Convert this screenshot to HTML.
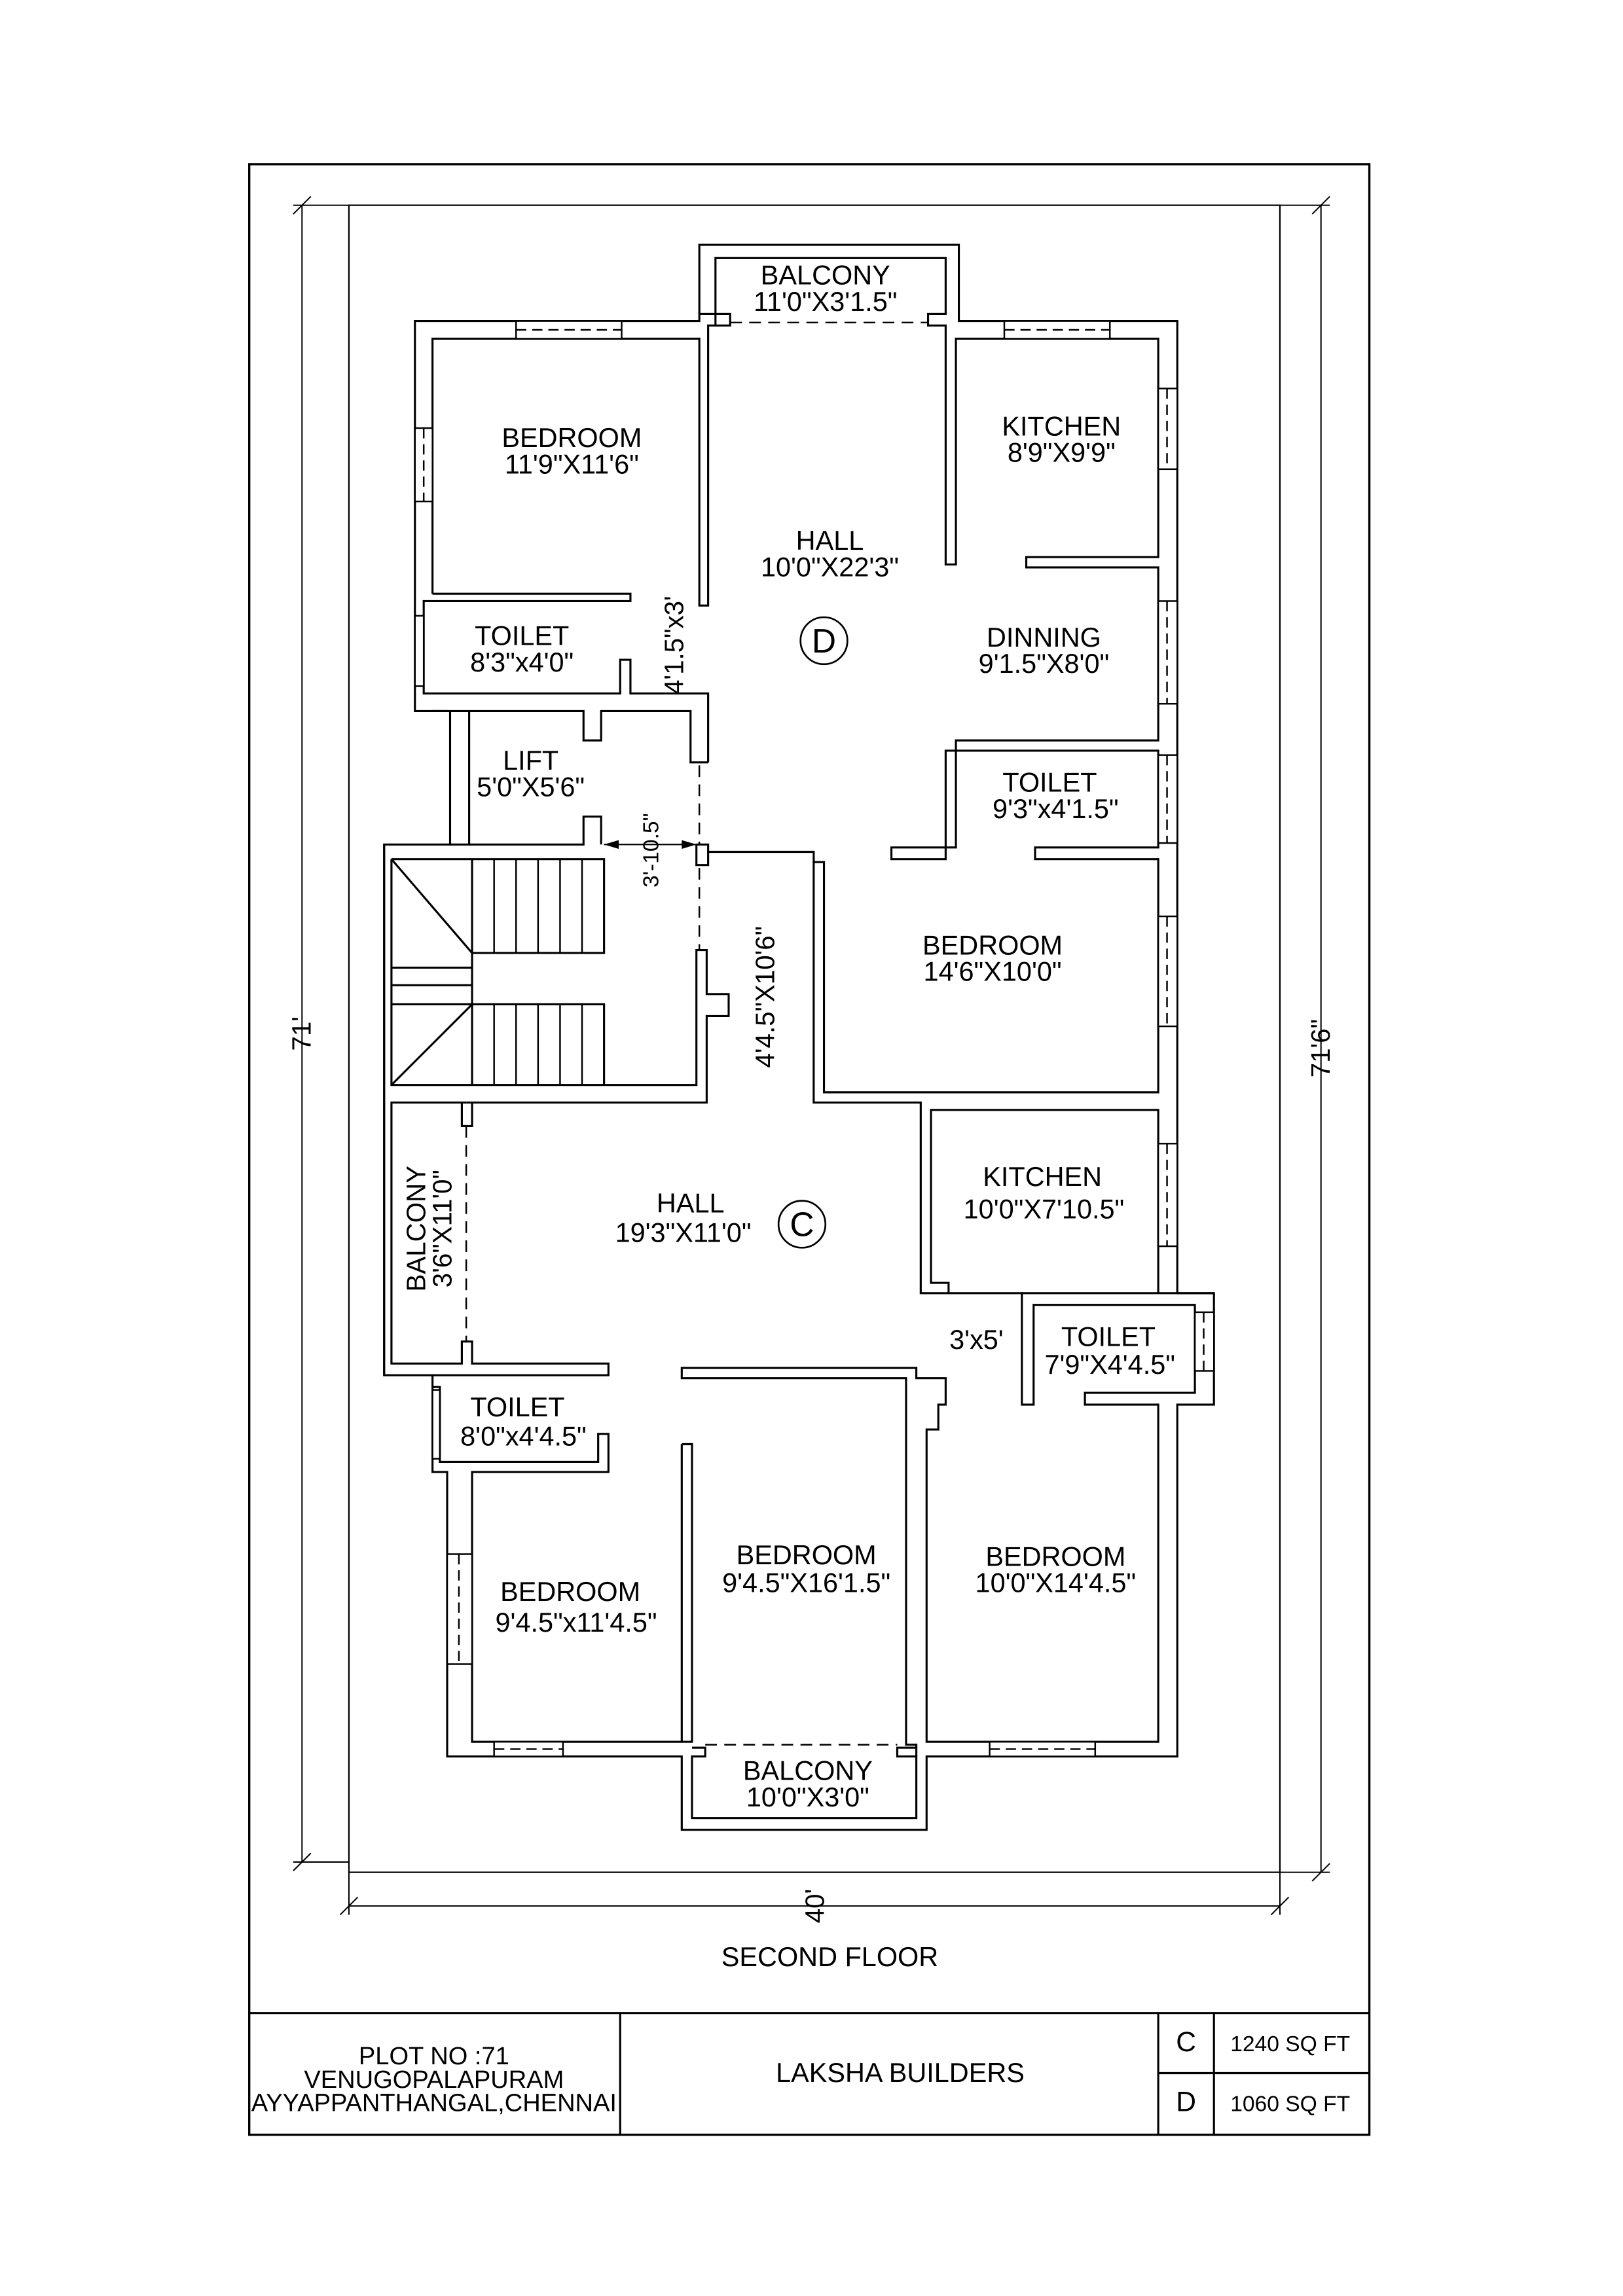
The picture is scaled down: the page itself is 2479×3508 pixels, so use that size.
<!DOCTYPE html>
<html><head><meta charset="utf-8"><style>
html,body{margin:0;padding:0;background:#fff}
svg{display:block}
text{font-family:"Liberation Sans",sans-serif;fill:#000}
</style></head><body>
<svg width="2479" height="3508" viewBox="0 0 1107 1566" preserveAspectRatio="none" xmlns="http://www.w3.org/2000/svg">
<g fill="none" stroke="#000" stroke-width="1.4" stroke-linejoin="miter">
<rect x="170" y="112" width="764" height="1344" stroke-width="1.5"/>
<line x1="170" y1="1373" x2="934" y2="1373"/>
<line x1="423" y1="1373" x2="423" y2="1456"/>
<line x1="790" y1="1373" x2="790" y2="1456"/>
<line x1="828" y1="1373" x2="828" y2="1456"/>
<line x1="790" y1="1414" x2="934" y2="1414"/>
<rect x="238" y="140" width="635" height="1137" stroke-width="1"/>
<g stroke-width="0.9">
<line x1="206" y1="140" x2="206" y2="1270"/><line x1="200" y1="146" x2="212" y2="134"/><line x1="200" y1="1276" x2="212" y2="1264"/><line x1="200" y1="1270" x2="238" y2="1270"/><line x1="200" y1="140" x2="238" y2="140"/>
<line x1="901" y1="140" x2="901" y2="1277"/><line x1="895" y1="146" x2="907" y2="134"/><line x1="895" y1="1283" x2="907" y2="1271"/><line x1="873" y1="140" x2="907" y2="140"/><line x1="873" y1="1277" x2="907" y2="1277"/>
<line x1="238" y1="1300" x2="873" y2="1300"/><line x1="238" y1="1277" x2="238" y2="1306"/><line x1="873" y1="1277" x2="873" y2="1306"/><line x1="232" y1="1306" x2="244" y2="1294"/><line x1="867" y1="1306" x2="879" y2="1294"/>
</g>
<polyline points="305,485 283,485 283,219 477,219 477,167 654,167 654,219 803,219 803,882 828,882 828,958 803,958 803,1198 632,1198 632,1248 465,1248 465,1198 305,1198 305,1004 295,1004 295,938 262,938 262,576 307,576 307,485"/>
<polyline points="295,405 295,231 477,231 477,413 483,413 483,222 488,222 488,214 477,214"/>
<polyline points="295,405 430,405 430,410 289,410 289,473 423,473 423,450 430,450 430,473 483,473 483,520"/>
<polyline points="295,485 398,485 398,505 410,505 410,485 471,485 471,520 483,520"/>
<polyline points="320,485 320,576 307,576"/>
<polyline points="320,576 398,576 398,557 410,557 410,576"/>
<polyline points="488,214 488,176 645,176 645,214 633,214 633,222 645,222 645,385 652,385 652,231 790,231 790,380 700,380 700,387 790,387 790,505 652,505 652,578 608,578 608,586 645,586 645,512 790,512 790,578 706,578 706,586 790,586 790,745 562,745 562,588 555,588 555,752 628,752 628,882 647,882 647,875 635,875 635,757 790,757 790,882"/>
<polyline points="488,222 498,222 498,214 488,214"/>
<polyline points="475,576 475,590 483,590 483,581 555,581 555,588"/>
<polyline points="483,581 483,576 475,576"/>
<polyline points="262,576 262,938"/>
<polyline points="267,586 412,586 412,650 322,650 322,586"/>
<polyline points="267,586 267,740 475,740 475,648 482,648 482,678 497,678 497,693 482,693 482,752 318,752"/>
<polyline points="322,685 412,685 412,740"/>
<line x1="322" y1="650" x2="322" y2="740"/>
<line x1="267" y1="660" x2="322" y2="660"/><line x1="267" y1="672" x2="322" y2="672"/><line x1="267" y1="685" x2="322" y2="685"/>
<line x1="267" y1="586" x2="322" y2="650"/><line x1="322" y1="685" x2="267" y2="740"/>
<g stroke-width="1.1"><line x1="337" y1="586" x2="337" y2="650"/><line x1="352" y1="586" x2="352" y2="650"/><line x1="367" y1="586" x2="367" y2="650"/><line x1="382" y1="586" x2="382" y2="650"/><line x1="397" y1="586" x2="397" y2="650"/>
<line x1="337" y1="685" x2="337" y2="740"/><line x1="352" y1="685" x2="352" y2="740"/><line x1="367" y1="685" x2="367" y2="740"/><line x1="382" y1="685" x2="382" y2="740"/><line x1="397" y1="685" x2="397" y2="740"/></g>
<polyline points="318,752 267,752 267,930 315,930 315,915 322,915 322,930 415,930 415,938 295,938"/>
<polyline points="315,752 315,768 322,768 322,752"/>
<polyline points="647,882 697,882 697,958 705,958 705,890 815,890 815,950 740,950 740,958 790,958 790,1188 632,1188 632,975 640,975 640,958 645,958 645,940 625,940 625,933 465,933 465,940 618,940 618,1190 625,1190 625,1198"/>
<polyline points="697,882 828,882"/>
<polyline points="465,985 472,985 472,1188 465,1188 465,985"/>
<polyline points="465,1188 462,1188 322,1188 322,1004 415,1004 415,978 408,978 408,997 300,997 300,946 295,946"/>
<polyline points="472,1192 481,1192 481,1198 472,1198 472,1240 625,1240 625,1198 612,1198 612,1192 625,1192"/>
</g>
<g fill="none" stroke="#000" stroke-width="1.1" stroke-dasharray="8,5">
<line x1="498" y1="220" x2="633" y2="220"/>
<line x1="477" y1="522" x2="477" y2="576"/>
<line x1="477" y1="592" x2="477" y2="648"/>
<line x1="318" y1="768" x2="318" y2="915"/>
<line x1="481" y1="1190" x2="612" y2="1190"/>
</g>
<g fill="#fff" stroke="#000" stroke-width="1.1">
<rect x="352" y="219" width="72" height="12"/><rect x="685" y="219" width="72" height="12"/>
<rect x="283" y="292" width="12" height="50"/><rect x="283" y="420" width="6" height="48"/>
<rect x="790" y="265" width="13" height="55"/><rect x="790" y="410" width="13" height="70"/>
<rect x="790" y="515" width="13" height="60"/><rect x="790" y="625" width="13" height="75"/>
<rect x="790" y="780" width="13" height="70"/><rect x="815" y="895" width="13" height="40"/>
<rect x="295" y="948" width="5" height="47"/><rect x="305" y="1060" width="17" height="75"/>
<rect x="337" y="1188" width="47" height="10"/><rect x="675" y="1188" width="72" height="10"/>
</g>
<g stroke="#000" stroke-width="1.1" stroke-dasharray="7,4">
<line x1="352" y1="225" x2="424" y2="225"/><line x1="685" y1="225" x2="757" y2="225"/>
<line x1="289" y1="292" x2="289" y2="342"/><line x1="796" y1="265" x2="796" y2="320"/>
<line x1="796" y1="410" x2="796" y2="480"/><line x1="796" y1="515" x2="796" y2="575"/>
<line x1="796" y1="625" x2="796" y2="700"/><line x1="796" y1="780" x2="796" y2="850"/>
<line x1="821" y1="895" x2="821" y2="935"/><line x1="313" y1="1060" x2="313" y2="1135"/>
<line x1="337" y1="1193" x2="384" y2="1193"/><line x1="675" y1="1193" x2="747" y2="1193"/>
</g>
<g stroke="#000" stroke-width="1"><line x1="412" y1="576" x2="475" y2="576"/></g>
<polygon points="412,576 422,573 422,579"/><polygon points="475,576 465,573 465,579"/>
<circle cx="562" cy="437" r="16" fill="none" stroke="#000" stroke-width="1.2"/>
<circle cx="547" cy="835" r="16" fill="none" stroke="#000" stroke-width="1.2"/>
<g font-size="18.5" text-anchor="middle">
<text x="563" y="194">BALCONY</text><text x="563" y="212">11'0"X3'1.5"</text>
<text x="390" y="305">BEDROOM</text><text x="390" y="323">11'9"X11'6"</text>
<text x="724" y="297">KITCHEN</text><text x="724" y="315">8'9"X9'9"</text>
<text x="566" y="375">HALL</text><text x="566" y="393">10'0"X22'3"</text>
<text x="356" y="440">TOILET</text><text x="356" y="458">8'3"x4'0"</text>
<text x="712" y="441">DINNING</text><text x="712" y="459">9'1.5"X8'0"</text>
<text x="562" y="445" font-size="23">D</text>
<text x="362" y="525">LIFT</text><text x="362" y="543">5'0"X5'6"</text>
<text x="716" y="540">TOILET</text><text x="720" y="558">9'3"x4'1.5"</text>
<text x="677" y="651">BEDROOM</text><text x="677" y="669">14'6"X10'0"</text>
<text x="711" y="809">KITCHEN</text><text x="712" y="831">10'0"X7'10.5"</text>
<text x="471" y="827">HALL</text><text x="466" y="847">19'3"X11'0"</text>
<text x="547" y="843" font-size="23">C</text>
<text x="666" y="920">3'x5'</text>
<text x="756" y="918">TOILET</text><text x="757" y="937">7'9"X4'4.5"</text>
<text x="353" y="966">TOILET</text><text x="357" y="986">8'0"x4'4.5"</text>
<text x="550" y="1067">BEDROOM</text><text x="550" y="1086">9'4.5"X16'1.5"</text>
<text x="720" y="1068">BEDROOM</text><text x="720" y="1086">10'0"X14'4.5"</text>
<text x="389" y="1092">BEDROOM</text><text x="393" y="1113">9'4.5"x11'4.5"</text>
<text x="551" y="1214">BALCONY</text><text x="551" y="1232">10'0"X3'0"</text>
<text x="566" y="1341">SECOND FLOOR</text>
<text x="296" y="1408" font-size="17">PLOT NO :71</text>
<text x="296" y="1424" font-size="17">VENUGOPALAPURAM</text>
<text x="296" y="1440" font-size="17">AYYAPPANTHANGAL,CHENNAI</text>
<text x="614" y="1420">LAKSHA BUILDERS</text>
<text x="809" y="1399" font-size="19">C</text><text x="809" y="1440" font-size="19">D</text>
<text x="880" y="1399" font-size="15">1240 SQ FT</text><text x="880" y="1440" font-size="15">1060 SQ FT</text>
</g>
<g font-size="18" text-anchor="middle">
<text transform="translate(212,705) rotate(-90)">71'</text>
<text transform="translate(907,715) rotate(-90)">71'6"</text>
<text transform="translate(562,1300) rotate(-90)">40'</text>
<text transform="translate(466,440) rotate(-90)">4'1.5"x3'</text>
<text transform="translate(449,580) rotate(-90)" font-size="15">3'-10.5"</text>
<text transform="translate(528,680) rotate(-90)">4'4.5"X10'6"</text>
<text transform="translate(290,838) rotate(-90)">BALCONY</text>
<text transform="translate(308,838) rotate(-90)">3'6"X11'0"</text>
</g>
</svg>
</body></html>
